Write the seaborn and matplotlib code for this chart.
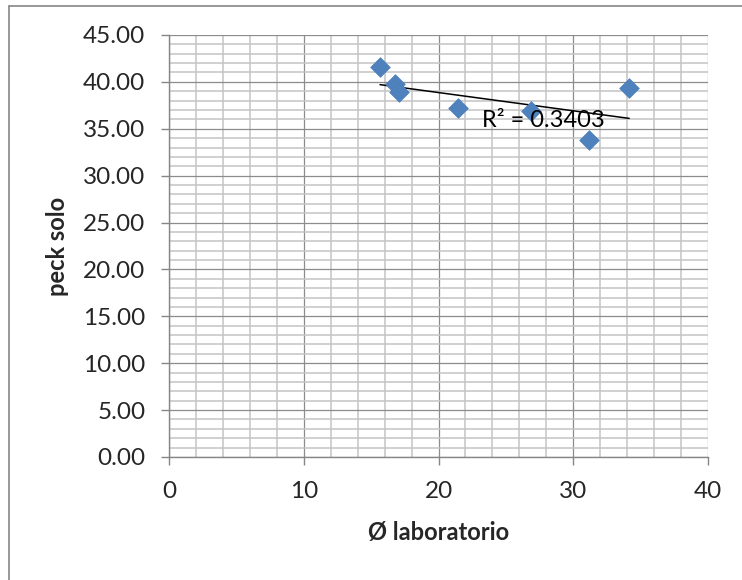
import numpy as np
import pandas as pd
import matplotlib
matplotlib.use("Agg")
import matplotlib.pyplot as plt
from matplotlib.lines import Line2D
from matplotlib.ticker import MultipleLocator, FormatStrFormatter
import seaborn as sns

# data
phi_lab = [15.66, 16.78, 17.10, 21.48, 26.85, 31.20, 34.15]
peck_solo = [41.55, 39.77, 38.95, 37.17, 36.89, 33.80, 39.37]
r2_label = "R² = 0.3403"

df = pd.DataFrame({"phi": phi_lab, "peck": peck_solo})

sns.set_theme(style="white")
plt.rcParams["font.family"] = ["Lato", "DejaVu Sans"]

fig = plt.figure(figsize=(7.42, 5.8), dpi=100)
ax = fig.add_axes([0.2278, 0.2121, 0.7264, 0.7276])

# linear trendline
slope, intercept = np.polyfit(df["phi"], df["peck"], 1)
xs = np.array([df["phi"].min(), df["phi"].max()])
ax.plot(xs, slope * xs + intercept, color="black", lw=1.1, zorder=3)

sns.scatterplot(data=df, x="phi", y="peck", marker="D", s=100,
                color="#4F81BD", edgecolor="#4A7EBB", linewidth=0.5,
                ax=ax, zorder=4)

ax.text(27.8, 35.9, r2_label, fontsize=17, color="black",
        ha="center", va="center", zorder=5)

ax.set_xlim(0, 40)
ax.set_ylim(0, 45)
ax.xaxis.set_major_locator(MultipleLocator(10))
ax.xaxis.set_minor_locator(MultipleLocator(2))
ax.yaxis.set_major_locator(MultipleLocator(5))
ax.yaxis.set_minor_locator(MultipleLocator(1))
ax.yaxis.set_major_formatter(FormatStrFormatter("%.2f"))

ax.grid(which="major", color="#8C8C8C", lw=0.9)
ax.grid(which="minor", color="#C4C4C4", lw=1.1)
ax.set_axisbelow(True)

for side in ["top", "right"]:
    ax.spines[side].set_visible(False)
for side in ["left", "bottom"]:
    ax.spines[side].set_color("#868686")
    ax.spines[side].set_linewidth(1.0)

ax.tick_params(which="major", direction="out", length=6, width=1,
               color="#868686", labelsize=17.5, pad=11, left=True, bottom=True)
ax.tick_params(which="minor", length=0)

ax.set_xlabel("Ø laboratorio", fontsize=17, fontweight="bold", labelpad=14)
ax.set_ylabel("peck solo", fontsize=17, fontweight="bold", labelpad=10)

# chart frame (left and top edges visible in the crop)
fig.add_artist(Line2D([9 / 742, 9 / 742], [0, 1 - 6 / 580],
                      transform=fig.transFigure, color="#868686", lw=1.2))
fig.add_artist(Line2D([9 / 742, 1], [1 - 6 / 580, 1 - 6 / 580],
                      transform=fig.transFigure, color="#868686", lw=1.2))

fig.savefig("out.png", dpi=100)
